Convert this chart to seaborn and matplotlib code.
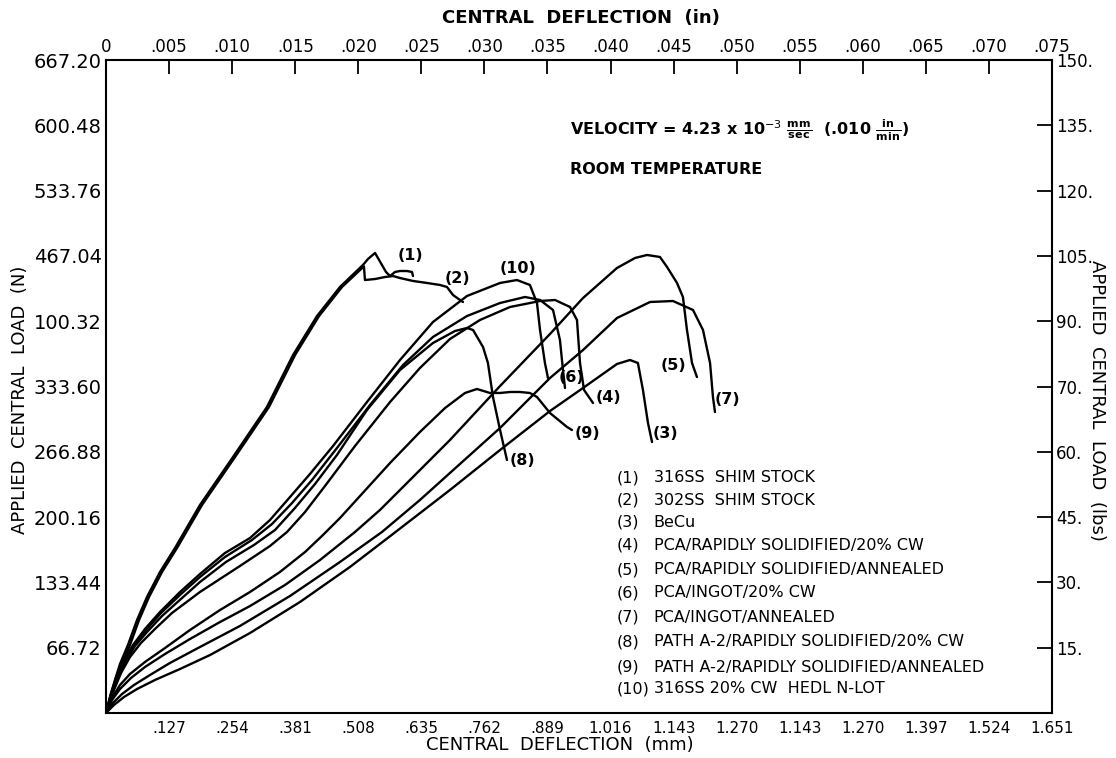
import matplotlib
matplotlib.use("Agg")
import matplotlib.pyplot as plt
import seaborn as sns
import pandas as pd

# ---------------- axis ticks / labels ----------------
defl_in_ticks = [0.000, 0.005, 0.010, 0.015, 0.020, 0.025, 0.030, 0.035,
                 0.040, 0.045, 0.050, 0.055, 0.060, 0.065, 0.070, 0.075]
defl_in_labels = ["0", ".005", ".010", ".015", ".020", ".025", ".030", ".035",
                  ".040", ".045", ".050", ".055", ".060", ".065", ".070", ".075"]
defl_mm_ticks = [0.005, 0.010, 0.015, 0.020, 0.025, 0.030, 0.035,
                 0.040, 0.045, 0.050, 0.055, 0.060, 0.065, 0.070, 0.075]
defl_mm_labels = [".127", ".254", ".381", ".508", ".635", ".762", ".889", "1.016",
                  "1.143", "1.270", "1.143", "1.270", "1.397", "1.524", "1.651"]
load_lbs_ticks = [15, 30, 45, 60, 75, 90, 105, 120, 135, 150]
load_n_labels = ["66.72", "133.44", "200.16", "266.88", "333.60", "100.32",
                 "467.04", "533.76", "600.48", "667.20"]
load_lbs_labels = ["15.", "30.", "45.", "60.", "70.", "90.", "105.", "120.", "135.", "150."]

# ---------------- curves: deflection (in) vs load (lbs) ----------------
c1_x = [0, .00032, .00071, .00111, .00174, .00246, .00325, .00428, .00547, .00745, .01007,
        .01276, .01483, .01673, .01855, .02037, .02077, .02133, .02156, .02188, .02220,
        .02252, .02291, .02331, .02386, .02426, .02434]
c1_y = [0, 3.68, 7.58, 11.26, 15.62, 21.36, 26.65, 32.39, 37.90, 47.78, 58.81,
        70.29, 82.24, 91.19, 97.86, 102.91, 104.29, 105.67, 104.52, 102.91, 101.30,
        100.38, 101.30, 101.53, 101.53, 101.30, 100.38]

c2_x = [0, .00040, .00085, .00127, .00190, .00262, .00341, .00444, .00563, .00761, .01023,
        .01292, .01499, .01689, .01871, .02045, .02053, .02133, .02212, .02275, .02331,
        .02434, .02545, .02648, .02703, .02751, .02830]
c2_y = [0, 3.68, 7.58, 11.26, 15.62, 21.36, 26.65, 32.39, 37.90, 47.78, 58.81,
        70.29, 82.24, 91.19, 97.86, 102.6, 99.46, 99.69, 100.15, 100.38, 99.92,
        99.24, 98.78, 98.32, 97.86, 96.02, 94.40]

c3_x = [0, .00063, .00143, .00246, .00388, .00587, .00825, .01142, .01538, .01934, .02275,
        .02727, .03124, .03520, .03782, .04051, .04154, .04217, .04257, .04297, .04329]
c3_y = [0, 1.84, 3.68, 5.51, 7.58, 10.11, 13.32, 18.38, 25.50, 33.54, 41.12,
        51.23, 60.41, 69.37, 74.66, 80.17, 81.09, 80.40, 74.20, 66.61, 62.25]

c4_x = [0, .00063, .00119, .00190, .00277, .00388, .00523, .00745, .01062, .01300, .01435,
        .01578, .01736, .01974, .02252, .02489, .02727, .02965, .03203, .03441, .03560,
        .03679, .03734, .03758, .03790, .03861]
c4_y = [0, 5.28, 9.19, 12.86, 16.08, 19.30, 22.97, 27.80, 33.77, 38.36, 41.58,
        46.17, 52.14, 61.33, 71.44, 79.25, 85.91, 90.28, 93.26, 94.64, 94.87,
        93.26, 90.28, 80.40, 74.20, 71.21]

c5_x = [0, .00048, .00111, .00198, .00309, .00468, .00666, .00904, .01142, .01419, .01697,
        .01974, .02172, .02331, .02727, .03124, .03520, .03782, .04051, .04194, .04289,
        .04392, .04448, .04527, .04574, .04606, .04646, .04685]
c5_y = [0, 2.99, 5.51, 8.04, 10.57, 13.55, 17.00, 20.90, 24.58, 29.40, 35.15,
        41.58, 46.63, 51.23, 62.71, 75.11, 87.06, 95.33, 102.22, 104.52, 105.21,
        104.75, 102.45, 98.78, 95.56, 87.98, 80.40, 77.18]

c6_x = [0, .00048, .00095, .00151, .00222, .00317, .00436, .00595, .00745, .00943, .01157,
        .01316, .01475, .01633, .01831, .02093, .02355, .02592, .02862, .03124, .03322,
        .03441, .03544, .03599, .03623, .03639]
c6_y = [0, 4.82, 8.73, 12.17, 15.62, 19.07, 22.97, 27.34, 31.24, 35.83, 39.74,
        43.41, 48.24, 53.52, 60.87, 70.75, 79.94, 86.37, 91.19, 94.18, 95.56,
        94.87, 92.57, 85.68, 78.79, 74.66]

c7_x = [0, .00055, .00127, .00222, .00349, .00507, .00745, .01062, .01459, .01855, .02188,
        .02489, .02806, .03124, .03520, .03782, .04051, .04313, .04495, .04654, .04733,
        .04789, .04812, .04828]
c7_y = [0, 2.30, 4.36, 6.43, 8.73, 11.49, 15.16, 19.99, 26.88, 34.69, 41.58,
        48.93, 57.20, 65.47, 76.95, 83.38, 90.73, 94.41, 94.64, 92.57, 87.98,
        80.40, 72.59, 69.14]

c8_x = [0, .00055, .00103, .00159, .00230, .00325, .00444, .00603, .00745, .00951, .01173,
        .01340, .01498, .01657, .01831, .02069, .02331, .02592, .02767, .02862, .02910,
        .02989, .03028, .03068, .03124, .03179]
c8_y = [0, 5.05, 8.96, 12.17, 15.39, 18.61, 22.28, 26.42, 30.09, 34.69, 38.59,
        42.04, 47.09, 52.60, 59.27, 69.60, 78.79, 84.99, 87.75, 88.44, 87.98,
        84.07, 80.40, 72.59, 65.01, 58.12]

c9_x = [0, .00048, .00111, .00190, .00309, .00468, .00666, .00904, .01142, .01379, .01578,
        .01712, .01855, .02014, .02252, .02489, .02688, .02846, .02941, .03044, .03124,
        .03203, .03282, .03361, .03417, .03520, .03655, .03694]
c9_y = [0, 3.45, 6.43, 8.96, 11.72, 14.93, 19.07, 23.66, 27.80, 32.39, 36.98,
        40.66, 44.79, 49.85, 57.43, 64.55, 70.06, 73.51, 74.43, 73.51, 73.51,
        73.74, 73.74, 73.51, 72.59, 68.91, 65.70, 65.01]

c10_x = [0, .00040, .00087, .00143, .00214, .00309, .00428, .00587, .00745, .00943, .01142,
         .01300, .01459, .01617, .01800, .02069, .02331, .02592, .02862, .03124, .03258,
         .03361, .03417, .03441, .03480, .03504]
c10_y = [0, 4.59, 8.73, 12.17, 15.62, 19.30, 23.20, 27.80, 31.93, 36.75, 40.20,
         44.33, 49.62, 54.90, 61.33, 71.44, 81.09, 89.81, 95.79, 98.78, 99.46,
         98.32, 94.18, 87.98, 80.40, 76.95]

curve_names = ["(1)", "(2)", "(3)", "(4)", "(5)", "(6)", "(7)", "(8)", "(9)", "(10)"]
curve_x = [c1_x, c2_x, c3_x, c4_x, c5_x, c6_x, c7_x, c8_x, c9_x, c10_x]
curve_y = [c1_y, c2_y, c3_y, c4_y, c5_y, c6_y, c7_y, c8_y, c9_y, c10_y]

legend_numbers = ["(1)", "(2)", "(3)", "(4)", "(5)", "(6)", "(7)", "(8)", "(9)", "(10)"]
legend_texts = ["316SS  SHIM STOCK", "302SS  SHIM STOCK", "BeCu",
                "PCA/RAPIDLY SOLIDIFIED/20% CW", "PCA/RAPIDLY SOLIDIFIED/ANNEALED",
                "PCA/INGOT/20% CW", "PCA/INGOT/ANNEALED",
                "PATH A-2/RAPIDLY SOLIDIFIED/20% CW", "PATH A-2/RAPIDLY SOLIDIFIED/ANNEALED",
                "316SS 20% CW  HEDL N-LOT"]

# ---------------- build long data ----------------
rows = []
for name, xs, ys in zip(curve_names, curve_x, curve_y):
    for i, (xv, yv) in enumerate(zip(xs, ys)):
        rows.append({"curve": name, "order": i, "defl": xv, "load": yv})
df = pd.DataFrame(rows)

sns.set_theme(style="white")
plt.rcParams['font.family'] = ['DejaVu Sans']
plt.rcParams['mathtext.fontset'] = 'dejavusans'
plt.rcParams['text.color'] = 'black'
plt.rcParams['xtick.color'] = 'black'
plt.rcParams['ytick.color'] = 'black'
plt.rcParams['axes.labelcolor'] = 'black'

W, H = 1116, 758
fig = plt.figure(figsize=(W / 100, H / 100), dpi=100)
L, R, T, B = 106, 1052, 60, 713
ax = fig.add_axes([L / W, 1 - B / H, (R - L) / W, (B - T) / H])

sns.lineplot(data=df, x="defl", y="load", units="curve", estimator=None, sort=False,
             color="black", lw=1.7, ax=ax, legend=False)

ax.set_xlim(0, 0.075)
ax.set_ylim(0, 150)
for s in ax.spines.values():
    s.set_color("black")
    s.set_linewidth(1.5)
ax.set_xlabel("")
ax.set_ylabel("")

# bottom (mm) ticks
ax.set_xticks(defl_mm_ticks)
ax.set_xticklabels(defl_mm_labels, fontsize=11)
ax.tick_params(axis="x", direction="in", length=10, width=1.3, colors="black", pad=6)
# left (N) ticks
ax.set_yticks(load_lbs_ticks)
ax.set_yticklabels(load_n_labels, fontsize=14)
ax.tick_params(axis="y", direction="in", length=11, width=1.3, colors="black", pad=3)
ax.yaxis.get_major_ticks()[-1].tick1line.set_visible(False)

# top (in) axis
top = ax.secondary_xaxis("top")
top.set_xticks(defl_in_ticks)
top.set_xticklabels(defl_in_labels, fontsize=12)
top.tick_params(direction="in", length=10, width=1.3, colors="black", pad=3)
top.spines["top"].set_visible(False)

# right (lbs) axis
right = ax.secondary_yaxis("right")
right.set_yticks(load_lbs_ticks)
right.set_yticklabels(load_lbs_labels, fontsize=12)
right.tick_params(direction="in", length=11, width=1.3, colors="black", pad=3)
right.spines["right"].set_visible(False)
right.yaxis.get_major_ticks()[-1].tick2line.set_visible(False)

# axis titles
fig.text(581 / W, 1 - 18 / H, "CENTRAL  DEFLECTION  (in)", ha="center", va="center",
         fontsize=13, fontweight="bold", color="black")
fig.text(560 / W, 1 - 745 / H, "CENTRAL  DEFLECTION  (mm)", ha="center", va="center",
         fontsize=13, color="black")
fig.text(20 / W, 1 - 400 / H, "APPLIED  CENTRAL  LOAD  (N)", ha="center", va="center",
         rotation=90, fontsize=13, color="black")
fig.text(1097 / W, 1 - 400 / H, "APPLIED  CENTRAL  LOAD  (lbs)", ha="center", va="center",
         rotation=270, fontsize=13, color="black")

# test conditions
ax.text(0.490, 0.893,
        r"VELOCITY = 4.23 x 10$^{-3}$ $\frac{\mathbf{mm}}{\mathbf{sec}}$  (.010 $\frac{\mathbf{in}}{\mathbf{min}}$)",
        transform=ax.transAxes, ha="left", va="center", fontsize=11.5, fontweight="bold",
        color="black")
ax.text(0.490, 0.832, "ROOM TEMPERATURE", transform=ax.transAxes, ha="left", va="center",
        fontsize=11.5, fontweight="bold", color="black")

# curve labels
curve_label_pos = {"(1)": (0.02410, 105.2), "(2)": (0.02783, 99.9), "(10)": (0.03266, 102.2),
                   "(6)": (0.03694, 77.0), "(4)": (0.03980, 72.4), "(5)": (0.04495, 79.9),
                   "(7)": (0.04923, 71.9), "(3)": (0.04432, 64.3), "(9)": (0.03813, 64.3),
                   "(8)": (0.03298, 58.1)}
for name, (px, py) in curve_label_pos.items():
    ax.text(px, py, name, ha="center", va="center", fontsize=11.5, fontweight="bold",
            color="black")

# legend block
leg_y = [0.360, 0.326, 0.292, 0.257, 0.219, 0.184, 0.147, 0.109, 0.070, 0.037]
for num, txt, yy in zip(legend_numbers, legend_texts, leg_y):
    ax.text(0.540, yy, num, transform=ax.transAxes, ha="left", va="center", fontsize=11.5,
            color="black")
    ax.text(0.579, yy, txt, transform=ax.transAxes, ha="left", va="center", fontsize=11.5,
            color="black")

fig.savefig("out.png", dpi=100, facecolor="white")
